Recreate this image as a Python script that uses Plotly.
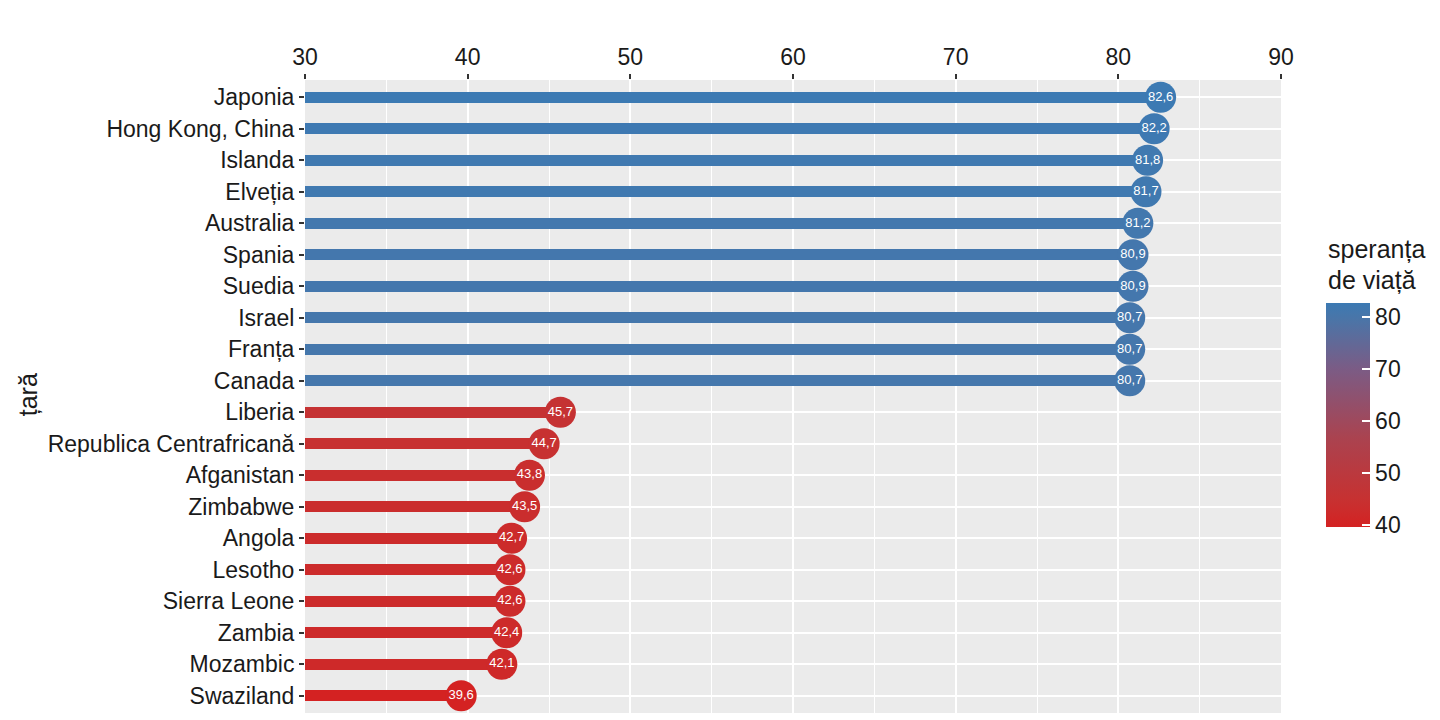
import plotly.graph_objects as go

# tari (de sus in jos) si speranta de viata
countries = [
    "Japonia", "Hong Kong, China", "Islanda", "Elveția", "Australia",
    "Spania", "Suedia", "Israel", "Franța", "Canada",
    "Liberia", "Republica Centrafricană", "Afganistan", "Zimbabwe", "Angola",
    "Lesotho", "Sierra Leone", "Zambia", "Mozambic", "Swaziland",
]
life_exp = [
    82.6, 82.2, 81.8, 81.7, 81.2,
    80.9, 80.9, 80.7, 80.7, 80.7,
    45.7, 44.7, 43.8, 43.5, 42.7,
    42.6, 42.6, 42.4, 42.1, 39.6,
]
cbar_ticks = [40, 50, 60, 70, 80]
x_ticks = [30, 40, 50, 60, 70, 80, 90]

labels = [f"{v:.1f}".replace(".", ",") for v in life_exp]

scale = [
    [0.0, "#D42222"],
    [0.12, "#C73131"],
    [0.4, "#AA4350"],
    [0.7, "#7C5B84"],
    [0.93, "#4A75A8"],
    [1.0, "#3C7AB3"],
]
cmin, cmax = min(life_exp), max(life_exp)
TXT = "#1a1a1a"

fig = go.Figure()

# segmentele
fig.add_bar(
    y=countries, x=[v - 30 for v in life_exp], base=30,
    orientation="h", width=0.35,
    marker=dict(color=life_exp, colorscale=scale, cmin=cmin, cmax=cmax,
                line=dict(width=0)),
    hoverinfo="skip", showlegend=False,
)

# punctele + etichete
fig.add_scatter(
    y=countries, x=life_exp, mode="markers+text",
    text=labels, textposition="middle center",
    textfont=dict(color="white", size=13, family="Liberation Sans"),
    marker=dict(size=31, color=life_exp, colorscale=scale, cmin=cmin, cmax=cmax,
                line=dict(width=0), showscale=True,
                colorbar=dict(
                    tickvals=cbar_ticks, ticks="inside", ticklen=8,
                    tickcolor="white", tickwidth=1.5,
                    tickfont=dict(size=23, color=TXT),
                    thickness=44, len=0.354, lenmode="fraction",
                    x=1.046, xanchor="left", y=0.4708, yanchor="middle",
                    xpad=0, ypad=0, outlinewidth=0,
                )),
    cliponaxis=False, showlegend=False,
)

# titlul axei y
fig.add_annotation(
    text="țară", textangle=-90, xref="paper", yref="paper",
    x=-0.2838, y=0.502, xanchor="center", yanchor="middle", showarrow=False,
    font=dict(size=25, color=TXT),
)
# titlul legendei
for txt, ypx in [("speranța", 249), ("de viață", 280)]:
    fig.add_annotation(
        text=txt, xref="paper", yref="paper",
        x=(1326 - 305) / 976, y=(713 - ypx) / 633,
        xanchor="left", yanchor="middle", showarrow=False,
        font=dict(size=25, color=TXT),
    )

fig.update_xaxes(
    side="top", range=[30, 90], tickvals=x_ticks,
    ticks="outside", ticklen=5, tickwidth=1.5, tickcolor="#333333",
    tickfont=dict(size=23, color=TXT),
    showgrid=True, gridcolor="white", gridwidth=2,
    minor=dict(dtick=5, showgrid=True, gridcolor="white", gridwidth=1),
    zeroline=False, showline=False,
)
fig.update_yaxes(
    categoryorder="array", categoryarray=countries,
    range=[19.55, -0.55],
    ticks="outside", ticklen=5, tickwidth=1.5, tickcolor="#333333",
    tickfont=dict(size=23, color=TXT),
    showgrid=True, gridcolor="white", gridwidth=2,
    zeroline=False, showline=False,
)

# pagina are o margine de 8px, asa ca figura e cu 8px mai mica
fig.update_layout(
    width=1432, height=712,
    margin=dict(l=297, r=159, t=72, b=7),
    plot_bgcolor="#EBEBEB", paper_bgcolor="white",
    font=dict(family="Liberation Sans", color=TXT),
    bargap=0,
)

fig.write_html("out.html")
